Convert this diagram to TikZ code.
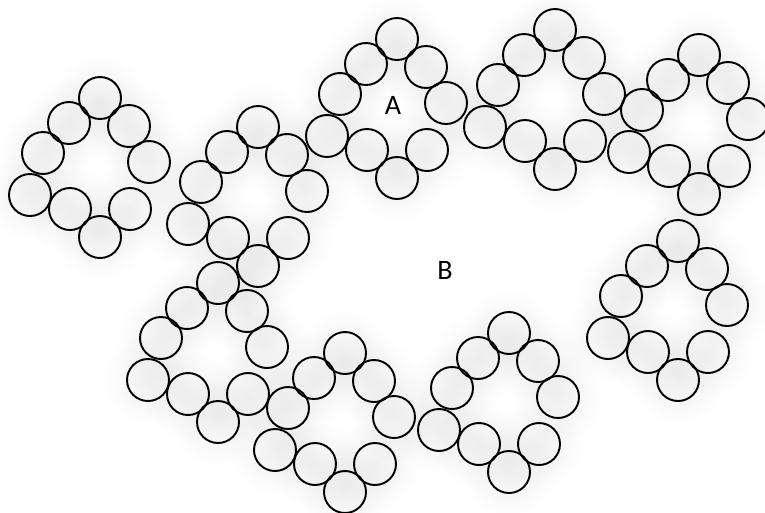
\documentclass[tikz,border=0pt]{standalone}
\usepackage{fontspec}
\setmainfont{Carlito}
\usetikzlibrary{fadings}

\tikzfading[name=halofade, inner color=transparent!0, outer color=transparent!100]
\tikzset{
  ring/.style={circle,draw,line width=1.1pt,minimum size=0.84cm,inner sep=0pt},
  glow/.style={fill=black,fill opacity=0.06,path fading=halofade},
  gaplabel/.style={font=\fontsize{16}{18}\selectfont}
}
\newcommand{\ringoffsets}{0/0,-31/25,29/28,-57/55,49/64,-70/97,-30/111,0/139,30/111}
\newcommand{\ringtops}{100/98,258/127,397/39,555/30,699/55,218/283,345/353,509/333,678/241}

\begin{document}
\begin{tikzpicture}[x=0.02cm,y=-0.02cm]
\useasboundingbox (0,0) rectangle (765,512);

% soft shadow behind the rings
\foreach \tx/\ty in \ringtops
  \foreach \dx/\dy in \ringoffsets
    \fill[glow] (\tx+\dx,\ty+\dy) circle (46);

% rings of nine circles
\foreach \tx/\ty [count=\i] in \ringtops
  \foreach \dx/\dy [count=\j] in \ringoffsets
    \node[ring] (r\i-\j) at (\tx+\dx,\ty+\dy) {};

% gaps
\node[gaplabel] (gapA) at (393,105) {A};
\node[gaplabel] (gapB) at (445,270) {B};
\end{tikzpicture}
\end{document}
